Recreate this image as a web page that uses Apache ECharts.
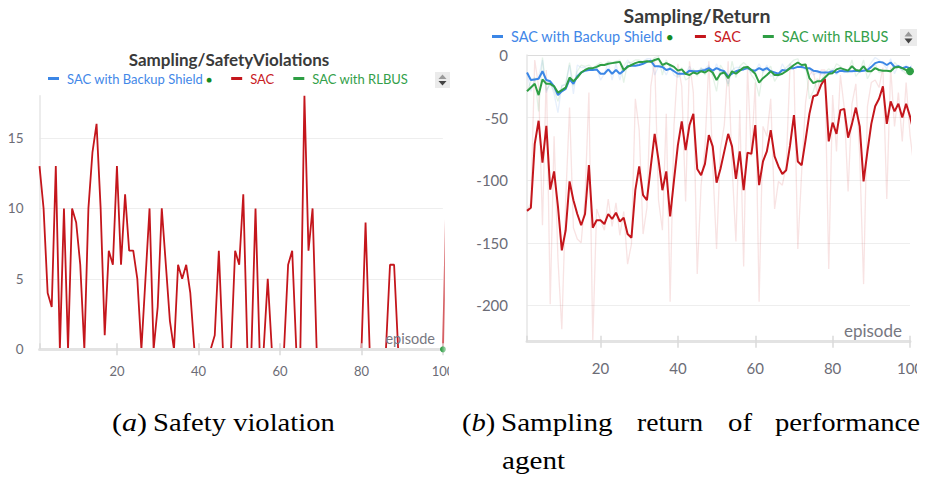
<!DOCTYPE html>
<html>
<head>
<meta charset="utf-8">
<script src="https://cdn.jsdelivr.net/npm/echarts@6/dist/echarts.min.js"></script>
<style>
  html, body { margin: 0; padding: 0; background: #fff; }
  #wrap { position: relative; width: 927px; height: 477px; overflow: hidden; }
  #chart { position: absolute; left: 0; top: 0; width: 927px; height: 477px; }
  .cap {
    position: absolute; white-space: nowrap; transform-origin: 0 0;
    font-family: "Liberation Serif", "Times New Roman", serif;
    font-size: 25px; line-height: 25px; color: #000;
  }
</style>
</head>
<body>
<div id="wrap">
  <div id="chart"></div>
  <div id="captions"></div>
</div>
<script>
// ---- data (episode = position in array + 1) ----

// (a) Sampling/SafetyViolations, episodes 1..101
const sacViolations = [
  13, 10, 4, 3, 13, 0, 10, 0, 10, 9,
  6, 0, 10, 14, 16, 10, 1, 7, 6, 13,
  6, 11, 7, 7, 5, 0, 5, 10, 0, 3,
  10, 6, 2, 0, 6, 5, 6, 4, 0, 0,
  0, 0, 0, 1, 7, 0, 0, 0, 7, 6,
  11, 0, 0, 10, 0, 0, 5, 0, 0, 0,
  0, 6, 7, 0, 0, 18, 7, 10, 0, 0,
  0, 0, 0, 0, 0, 0, 0, 0, 0, 0,
  9, 0, 0, 0, 0, 0, 6, 6, 0, 0,
  0, 0, 0, 0, 0, 0, 0, 0, 0, 0,
  13
]
const backupViolations = [
  0, 0, 0, 0, 0, 0, 0, 0, 0, 0,  0, 0, 0, 0, 0, 0, 0, 0, 0, 0,
  0, 0, 0, 0, 0, 0, 0, 0, 0, 0,  0, 0, 0, 0, 0, 0, 0, 0, 0, 0,
  0, 0, 0, 0, 0, 0, 0, 0, 0, 0,  0, 0, 0, 0, 0, 0, 0, 0, 0, 0,
  0, 0, 0, 0, 0, 0, 0, 0, 0, 0,  0, 0, 0, 0, 0, 0, 0, 0, 0, 0,
  0, 0, 0, 0, 0, 0, 0, 0, 0, 0,  0, 0, 0, 0, 0, 0, 0, 0, 0, 0
]
const rlbusViolations = [
  0, 0, 0, 0, 0, 0, 0, 0, 0, 0,  0, 0, 0, 0, 0, 0, 0, 0, 0, 0,
  0, 0, 0, 0, 0, 0, 0, 0, 0, 0,  0, 0, 0, 0, 0, 0, 0, 0, 0, 0,
  0, 0, 0, 0, 0, 0, 0, 0, 0, 0,  0, 0, 0, 0, 0, 0, 0, 0, 0, 0,
  0, 0, 0, 0, 0, 0, 0, 0, 0, 0,  0, 0, 0, 0, 0, 0, 0, 0, 0, 0,
  0, 0, 0, 0, 0, 0, 0, 0, 0, 0,  0, 0, 0, 0, 0, 0, 0, 0, 0, 0
]

// (b) Sampling/Return: smoothed lines + faint raw lines
const sacReturn = [
  -124.5, -122, -71, -52.5, -86, -56.5, -107.5, -93, -121, -156,
  -140, -101, -116, -127, -136, -127, -88, -138, -132, -132,
  -135, -127, -131, -126, -133, -130, -143, -146, -108, -89,
  -112, -116, -89, -63, -84, -108, -93, -129, -100, -72,
  -53, -76, -56, -47, -91, -96, -87, -64, -73, -102,
  -91, -77, -63, -73, -99, -77, -108, -78, -79, -56,
  -104, -85, -77, -60, -81, -89, -95, -92, -72, -48,
  -85, -88, -68, -47, -33, -32, -24, -19, -69, -54,
  -63, -44, -43, -66, -55, -42, -57, -101, -77, -55,
  -41, -35, -25, -55, -37, -45, -39, -50, -39, -49,
  -62, -65
]
const sacReturnRaw = [
  -124, -118, -4, -25, -136, -12, -199, -65, -163, -219,
  -116, -42, -138, -147, -150, -114, -30, -229, -123, -132,
  -140, -115, -137, -118, -144, -125, -167, -151, -35, -60,
  -143, -122, -25, -4, -116, -140, -47, -197, -56, -7,
  -25, -117, -5, -30, -175, -104, -74, -5, -87, -155,
  -75, -56, -5, -88, -149, -44, -169, -10, -81, -22,
  -197, -57, -65, -35, -123, -101, -104, -88, -8, -12,
  -155, -93, -38, -16, -12, -31, -12, -12, -171, -32,
  -77, -16, -42, -109, -39, -23, -80, -183, -41, -22,
  -20, -26, -10, -115, -10, -57, -30, -69, -22, -64,
  -89, -70
]
const backupReturn = [
  -14, -20, -19.5, -19, -13, -20, -21, -25, -32, -29,
  -27, -19.5, -23, -17, -14, -12.5, -12, -12, -11.5, -15,
  -15, -11.5, -15, -12, -15, -12.5, -9, -8.5, -8.5, -8,
  -7, -5.5, -4.5, -9, -9, -9.5, -12, -11, -13, -15,
  -15, -15, -12.5, -13, -13, -12.5, -12, -10.5, -12.5, -10.5,
  -12, -13, -17, -15, -13, -12, -11.5, -10.5, -12, -12.5,
  -10.5, -12, -10.5, -13, -14, -15, -12, -12.5, -10.5, -10.5,
  -9.5, -9.5, -10.5, -10.5, -12.5, -13, -14, -14, -14, -13,
  -14, -12.5, -13, -13, -13, -12.5, -13, -12.5, -12, -9.5,
  -6.5, -5.5, -6, -8, -6, -9.5, -9, -10.5, -9.5, -10.5,
  -8.5, -8
]
const backupReturnRaw = [
  -14, -29, -19, -18, -4, -30, -22, -31, -46, -24,
  -24, -8, -31, -8, -10, -10, -11, -12, -10, -20,
  -15, -6, -20, -7, -20, -9, -4, -8, -8.5, -7,
  -5, -3, -3, -16, -9, -10, -16, -9, -16, -18,
  -15, -15, -9, -14, -13, -11, -11, -8, -16, -7,
  -14, -15, -23, -12, -10, -10, -10, -9, -14, -13,
  -7, -14, -8, -17, -16, -17, -7, -13, -7, -10.5,
  -8, -9.5, -12, -10.5, -16, -14, -16, -14, -14, -11,
  -16, -10, -14, -13, -13, -11, -14, -11, -11, -6,
  -2, -4, -7, -11, -3, -15, -8, -13, -8, -12,
  -5, -7
]
const rlbusReturn = [
  -29, -26, -23, -32, -19.5, -23, -23, -25, -30, -28,
  -26, -18, -21, -18, -14, -12, -10.5, -10.5, -9.5, -8,
  -8, -7, -6.5, -6, -5.5, -12, -9.5, -8, -6.5, -5.5,
  -5.5, -5, -5.5, -4, -3, -8, -6.5, -8, -9.5, -12.5,
  -11.5, -15, -16, -14, -15, -13, -14, -12, -14, -20,
  -15, -14, -18.5, -13, -15, -12.5, -10, -9.5, -12, -15,
  -22, -18.5, -16, -13, -16, -16, -15, -13, -10.5, -8,
  -6, -8, -7.5, -18.5, -22.5, -21, -21, -18, -15, -14.5,
  -11.5, -10.5, -11.5, -12.5, -9, -12, -12.5, -9, -13, -13,
  -10.5, -12, -12.5, -12.5, -13, -10, -9.5, -10.5, -12, -13
]
const rlbusReturnRaw = [
  -29, -21, -18, -45, -2, -28, -23, -28, -37, -25,
  -23, -6, -25, -13, -8, -9, -8, -10.5, -8, -6,
  -8, -5, -6, -5, -4, -22, -6, -6, -4, -4,
  -5.5, -4, -6, -2, -1, -16, -4, -10, -12, -17,
  -10, -20, -18, -11, -17, -10, -16, -9, -17, -29,
  -8, -13, -25, -5, -18, -9, -6, -9, -16, -20,
  -33, -13, -12, -9, -21, -16, -14, -10, -7, -4,
  -3, -11, -7, -35, -29, -19, -21, -14, -11, -14,
  -7, -9, -13, -14, -4, -17, -13, -4, -19, -13,
  -7, -14, -13, -12.5, -14, -6, -9, -12, -15, -15
]

const runNames = ['SAC with Backup Shield', 'SAC', 'SAC with RLBUS']
const runColors = ['#3b86e6', '#c4161c', '#2e9e44']
const legendTextColors = ['#4287e8', '#c8201f', '#33a04a']
const titles = ['Sampling/SafetyViolations', 'Sampling/Return']
const xName = 'episode'

const FONT = 'Lato, "Liberation Sans", sans-serif'
const LABEL = '#6c6c76'

// [x, y] pairs, episode numbers start at 1; the last point can carry the run-end dot
const toPoints = (arr, endDot) => arr.map((v, i) => {
  if (endDot && i === arr.length - 1) {
    return { value: [i + 1, v], symbol: 'circle', symbolSize: endDot }
  }
  return [i + 1, v]
})

const lineSeries = (name, color, data, gi, opts) => Object.assign({
  name, type: 'line', xAxisIndex: gi * 2, yAxisIndex: gi, data,
  symbol: 'none', showSymbol: true, clip: false, silent: true,
  lineStyle: { color, width: 2 }, itemStyle: { color },
  emphasis: { disabled: true }, z: 2
}, opts || {})

const chart = echarts.init(document.getElementById('chart'), null, { renderer: 'svg' })

// 一个图的 x 轴（主轴画在线条上面 + 向内的短刻度）
const xAxisPair = (gi, fontSize, margin, nameSize, namePad) => [{
  type: 'value', gridIndex: gi, min: 1, max: 100, position: 'bottom', z: 10,
  axisLine: { onZero: false, lineStyle: { color: '#e3e3e3', width: 3 } },
  axisTick: { show: true, length: 6, lineStyle: { color: '#dadada', width: 1.5 } },
  axisLabel: { color: LABEL, fontSize, fontFamily: FONT, margin, showMinLabel: false },
  splitLine: { show: false },
  name: xName, nameLocation: 'end', nameGap: -8,
  nameTextStyle: { color: '#77777f', fontSize: nameSize, fontFamily: FONT, align: 'right', verticalAlign: 'bottom', padding: [0, 0, namePad, 0] }
}, {
  type: 'value', gridIndex: gi, min: 1, max: 100, position: 'bottom', z: 10,
  axisLine: { show: false, onZero: false },
  axisTick: { show: true, inside: true, length: 6, lineStyle: { color: '#dadada', width: 1.5 } },
  axisLabel: { show: false }, splitLine: { show: false }
}]

const legendFor = (left, top, fontSize, gap) => ({
  left, top, padding: 0, itemGap: gap, itemWidth: 11, itemHeight: 3, icon: 'rect',
  selectedMode: false,
  data: runNames.map((n, i) => ({ name: n, textStyle: { color: legendTextColors[i] } })),
  formatter: n => n === runNames[0] ? n + ' {dot|●}' : n,
  textStyle: {
    fontFamily: FONT, fontSize, padding: [0, 0, 0, 3],
    rich: { dot: { color: '#148a1e', fontSize: fontSize * 0.75 } }
  }
})

const scrollIcon = (x, y, w, h) => ({
  type: 'group', x, y, silent: true, children: [
    { type: 'rect', shape: { x: 0, y: 0, width: w, height: h }, style: { fill: '#ebebeb' } },
    { type: 'polygon', shape: { points: [[w / 2, 2.5], [w / 2 - 4, h / 2 - 1], [w / 2 + 4, h / 2 - 1]] }, style: { fill: '#9a9a9a' } },
    { type: 'polygon', shape: { points: [[w / 2 - 4, h / 2 + 1], [w / 2 + 4, h / 2 + 1], [w / 2, h - 2.5]] }, style: { fill: '#444' } }
  ]
})

const option = {
  animation: false,
  backgroundColor: '#fff',
  textStyle: { fontFamily: FONT },
  title: [
    { text: titles[0], left: 229, top: 51, textAlign: 'center', padding: 0,
      textStyle: { fontFamily: FONT, fontSize: 17, fontWeight: 'bold', color: '#3a3a3a' } },
    { text: titles[1], left: 697, top: 5, textAlign: 'center', padding: 0,
      textStyle: { fontFamily: FONT, fontSize: 19.5, fontWeight: 'bold', color: '#3a3a3a' } }
  ],
  legend: [legendFor(48, 72, 13, 19), legendFor(492, 29, 14.5, 22)],
  grid: [
    { left: 39.5, top: 95.7, width: 403.5, height: 253.6 },
    { left: 527, top: 55, width: 383, height: 286.7 }
  ],
  xAxis: [].concat(xAxisPair(0, 13, 15, 14.5, 3), xAxisPair(1, 15, 19, 17, 3)),
  yAxis: [{
    type: 'value', gridIndex: 0, min: 0, max: 18, interval: 5,
    axisLine: { show: true, onZero: false, lineStyle: { color: '#e6e6e6', width: 1.5 } },
    axisTick: { show: false },
    axisLabel: { color: LABEL, fontSize: 13.5, fontFamily: FONT, margin: 16, showMaxLabel: false },
    splitLine: { lineStyle: { color: '#eeeeee' }, showMaxLine: false }
  }, {
    type: 'value', gridIndex: 1, min: -229, max: 0,
    axisLine: { show: true, onZero: false, lineStyle: { color: '#e6e6e6', width: 1.5 } },
    axisTick: { show: false },
    axisLabel: { color: LABEL, fontSize: 15, fontFamily: FONT, margin: 19, showMinLabel: false },
    splitLine: { lineStyle: { color: ['#e3e3e3', '#eeeeee', '#eeeeee', '#eeeeee', '#eeeeee', '#dcdcdc'] } }
  }],
  series: [
    // (a) — the shield and RLBUS runs sit on zero, hidden under the axis line
    lineSeries(runNames[0], runColors[0], toPoints(backupViolations), 0, { z: 1, lineStyle: { opacity: 0 } }),
    lineSeries(runNames[1], runColors[1], toPoints(sacViolations), 0, { lineStyle: { color: runColors[1], width: 1.8 } }),
    lineSeries(runNames[2], runColors[2], toPoints(rlbusViolations, 6), 0, { z: 12, lineStyle: { opacity: 0 } }),
    // (b) smoothed
    lineSeries(runNames[0], runColors[0], toPoints(backupReturn), 1),
    lineSeries(runNames[1], runColors[1], toPoints(sacReturn), 1),
    lineSeries(runNames[2], runColors[2], toPoints(rlbusReturn, 8), 1),
    // (b) raw, faint
    lineSeries(runNames[0], runColors[0], toPoints(backupReturnRaw), 1, { z: 1, lineStyle: { color: runColors[0], width: 1.3, opacity: 0.13 } }),
    lineSeries(runNames[1], runColors[1], toPoints(sacReturnRaw), 1, { z: 1, lineStyle: { color: runColors[1], width: 1.3, opacity: 0.12 } }),
    lineSeries(runNames[2], runColors[2], toPoints(rlbusReturnRaw), 1, { z: 1, lineStyle: { color: runColors[2], width: 1.3, opacity: 0.13 } })
  ],
  graphic: [
    scrollIcon(435, 72, 15, 16),
    scrollIcon(900, 29, 17, 17),
    // right edge of panel (a) fades out and is cut
    { type: 'rect', silent: true, z: 100, shape: { x: 441, y: 90, width: 8, height: 262 },
      style: { fill: { type: 'linear', x: 0, y: 0, x2: 1, y2: 0,
        colorStops: [{ offset: 0, color: 'rgba(255,255,255,0)' }, { offset: 1, color: '#fff' }] } } },
    { type: 'rect', silent: true, z: 100, shape: { x: 449, y: 90, width: 11, height: 300 }, style: { fill: '#fff' } },
    { type: 'rect', silent: true, z: 100, shape: { x: 917, y: 350, width: 10, height: 40 }, style: { fill: '#fff' } }
  ]
}
chart.setOption(option)

// ---- captions: words placed at their spots, stretched to their widths ----
const captionWords = [
  ['(<i>a</i>)', 111.7, 146.7, 431],
  ['Safety violation', 153.3, 335, 431],
  ['(<i>b</i>)', 461.7, 495, 431],
  ['Sampling', 500.5, 612, 431],
  ['return', 637, 703, 431],
  ['of', 728, 752, 431],
  ['performance', 775, 920, 431],
  ['agent', 502, 565, 469]
]
const capBox = document.getElementById('captions')
captionWords.forEach(([html, x0, x1, base]) => {
  const el = document.createElement('div')
  el.className = 'cap'
  el.innerHTML = html
  el.style.left = x0 + 'px'
  el.style.top = (base - 20.9) + 'px'
  capBox.appendChild(el)
  const w = el.getBoundingClientRect().width
  el.style.transform = 'scaleX(' + ((x1 - x0) / w).toFixed(3) + ')'
})
</script>
</body>
</html>
